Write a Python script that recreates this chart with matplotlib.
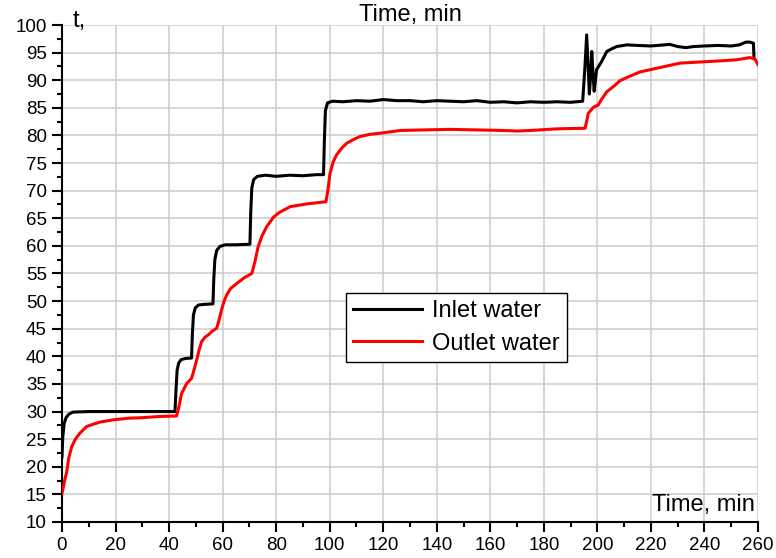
import numpy as np
import matplotlib
matplotlib.use("Agg")
import matplotlib.pyplot as plt
from matplotlib.ticker import MultipleLocator

plt.rcParams['font.family'] = ['Liberation Sans', 'DejaVu Sans']

# inlet water temperature
inlet_t = [0, 0.3, 0.8, 1.5, 2.5, 4, 10, 20, 30, 42.2,
           42.6, 43.0, 43.6, 44.5, 46, 48.4,
           48.7, 49.1, 49.8, 51, 53, 56.4,
           56.7, 57.1, 57.8, 59, 61, 65, 70.2,
           70.5, 70.9, 71.6, 73, 76, 80, 85, 90, 95, 97.7,
           98.0, 98.4, 99.2, 101, 105, 110, 115, 120, 125, 130, 135, 140,
           145, 150, 155, 160, 165, 170, 175, 180, 185, 190, 194.5,
           195.3, 196.0, 196.6, 197.0, 197.5, 197.9, 198.4, 198.8, 199.7,
           201.6, 203.5, 205, 207.2, 211, 215, 220, 225, 227, 230, 233, 236,
           240, 245, 250, 253, 255.5, 257, 258.3, 258.5]
inlet_v = [21.8, 25.5, 27.8, 28.9, 29.5, 29.9, 30.0, 30.0, 30.0, 30.0,
           34, 37.5, 38.8, 39.4, 39.6, 39.7,
           44, 47.5, 48.8, 49.3, 49.4, 49.5,
           54, 57.5, 59.2, 59.9, 60.2, 60.2, 60.3,
           66, 70.5, 72.0, 72.6, 72.8, 72.6, 72.8, 72.7, 72.9, 72.9,
           79, 84.5, 85.9, 86.2, 86.1, 86.3, 86.2, 86.5, 86.3, 86.3, 86.1, 86.3,
           86.2, 86.1, 86.3, 86.0, 86.1, 85.9, 86.1, 86.0, 86.1, 86.0, 86.2,
           92, 98.2, 92, 87.5, 91, 95.2, 91, 88.0, 91.9,
           93.4, 95.2, 95.6, 96.1, 96.4, 96.3, 96.2, 96.4, 96.5, 96.1, 95.9, 96.1,
           96.2, 96.3, 96.2, 96.4, 96.9, 96.9, 96.7, 94.0]

# outlet water temperature
outlet_t = [0, 0.5, 1, 1.7, 2.5, 3.6, 5, 6.7, 9.2, 14.2, 19.2, 25, 30.4, 36, 42.8,
            43.5, 44.7, 46.6, 48.4, 49.3, 50.3, 51.3, 52.2, 53.5, 54.7, 56, 57.8,
            58.7, 59.6, 60.5, 61.5, 63, 65.3, 68, 70.9,
            72, 73.3, 74.8, 76.5, 79, 81, 85.2, 91.4, 98.6,
            99.3, 100.1, 101.3, 102.6, 104.5, 106.4, 109, 111.3, 115, 118.8, 126.3,
            135, 145, 155, 165, 170, 175, 185, 195.4,
            196.2, 196.6, 198.5, 200.3, 201.5, 203.5, 206.6, 208.4, 211.5, 215.9,
            223.4, 230.9, 238.3, 245.8, 252, 257, 258.9, 260]
outlet_v = [15.2, 16.3, 17.6, 18.9, 21.5, 23.6, 25.0, 26.1, 27.3, 28.1, 28.5, 28.8, 28.9, 29.1, 29.2,
            30.5, 33.3, 35.1, 36.0, 37.5, 39.3, 41.3, 42.7, 43.5, 43.9, 44.5, 45.1,
            46.6, 48.4, 49.9, 51.1, 52.3, 53.2, 54.2, 55.0,
            57, 59.9, 61.9, 63.5, 65.2, 66.0, 67.1, 67.6, 68.0,
            70, 73.1, 75.2, 76.5, 77.7, 78.6, 79.3, 79.8, 80.2, 80.4, 80.9,
            81.0, 81.1, 81.0, 80.9, 80.8, 80.9, 81.2, 81.3,
            83, 84.0, 85.1, 85.5, 86.5, 87.9, 89.1, 89.9, 90.6, 91.5,
            92.3, 93.1, 93.3, 93.5, 93.7, 94.1, 93.8, 92.8]

fig = plt.figure(figsize=(7.76, 5.58), dpi=100)
ax = fig.add_axes([62/776, 1-522/558, 696/776, 497/558])

ax.plot(inlet_t, inlet_v, color='black', lw=2.2, label='Inlet water', zorder=3)
ax.plot(outlet_t, outlet_v, color='red', lw=2.2, label='Outlet water', zorder=3)

ax.set_xlim(0, 260)
ax.set_ylim(10, 100)
ax.xaxis.set_major_locator(MultipleLocator(20))
ax.xaxis.set_minor_locator(MultipleLocator(10))
ax.yaxis.set_major_locator(MultipleLocator(5))
ax.yaxis.set_minor_locator(MultipleLocator(2.5))
ax.grid(True, which='major', color='#cccccc', lw=1.1)
ax.set_axisbelow(True)

for s in ['top', 'right']:
    ax.spines[s].set_visible(False)
for s in ['left', 'bottom']:
    ax.spines[s].set_linewidth(1.5)

ax.tick_params(which='major', direction='out', length=7, width=1.5, labelsize=13.5, pad=4)
ax.tick_params(which='minor', direction='out', length=3.5, width=1.5)

fig.text(73/776, 1-27/558, 't,', fontsize=17, va='baseline', ha='left')
fig.text(410/776, 1-21/558, 'Time, min', fontsize=17, va='baseline', ha='center')
fig.text(755/776, 1-511/558, 'Time, min', fontsize=17, va='baseline', ha='right')

leg = ax.legend(loc='lower left', bbox_to_anchor=(0.408, 0.3225), borderaxespad=0,
                fontsize=17, frameon=True, fancybox=False, handlelength=2.9,
                handletextpad=0.45, labelspacing=0.45, borderpad=0.3)
leg.get_frame().set_edgecolor('black')
leg.get_frame().set_linewidth(1.0)
leg.get_frame().set_alpha(1)

fig.savefig('out.png', dpi=100)
